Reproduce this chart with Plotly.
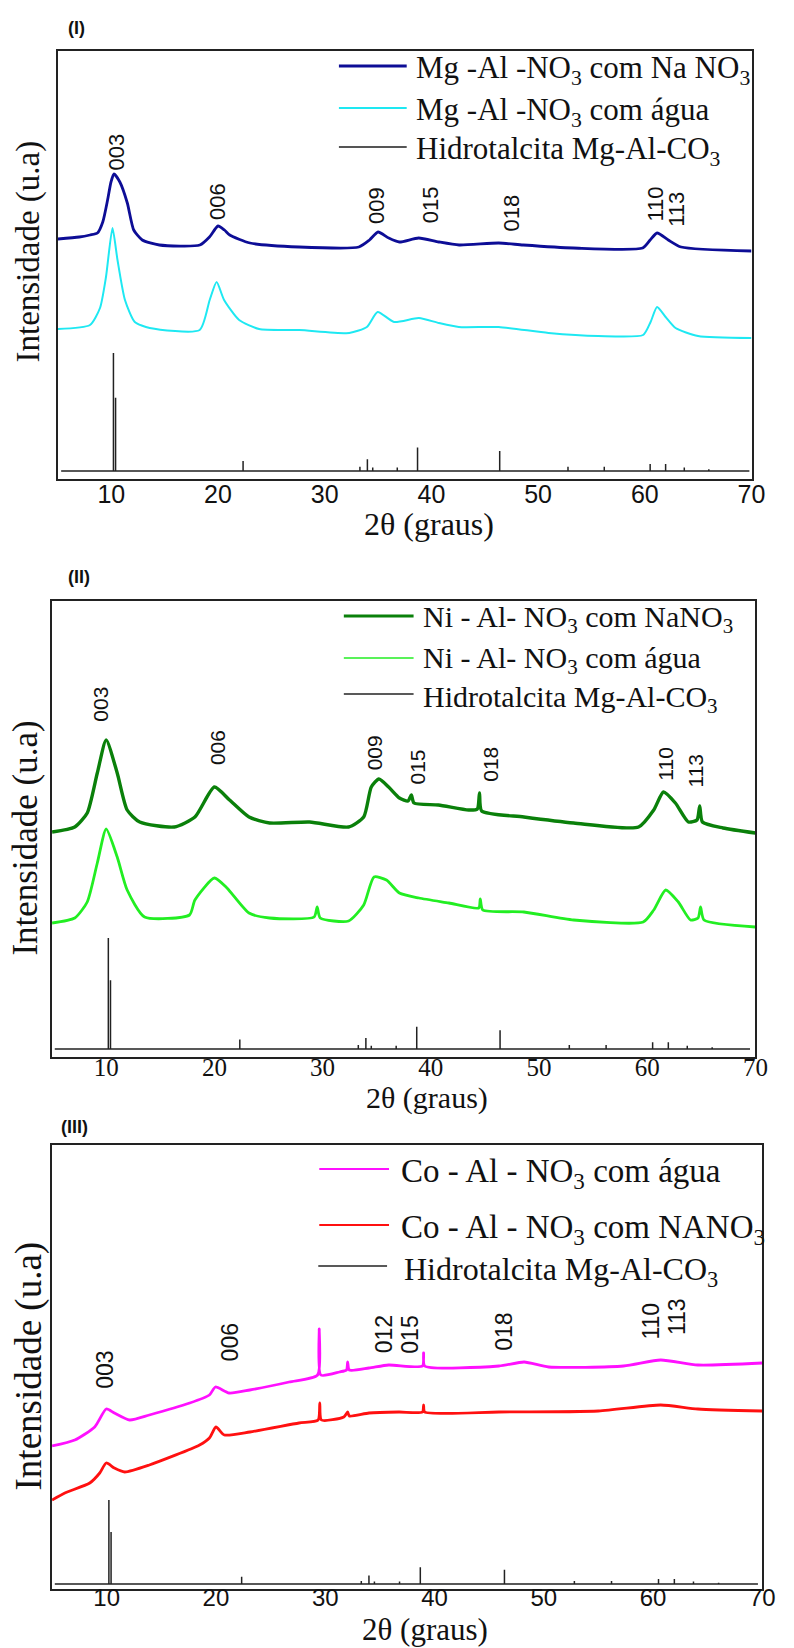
import plotly.graph_objects as go

W, H = 794, 1648

# ---------------- data ----------------
# Panel I: Mg-Al-NO3 (intensity in arbitrary units)
mg_na_x = [5.0, 7.0, 8.0, 8.7, 9.2, 9.65, 9.97, 10.25, 10.8, 11.5, 12.1, 12.9, 14.5, 18.3, 19.2, 20.0,
           20.6, 21.1, 23.0, 27.6, 33.2, 34.2, 35.0, 36.0, 37.0, 38.8, 40.7, 42.6, 46.3, 48.6, 53.3,
           59.8, 60.5, 61.15, 62.2, 63.4, 70.0]
mg_na_y = [240, 242, 244, 246, 257, 279, 297, 305, 297, 276, 249, 239, 234, 234, 242, 253,
           249, 244, 236, 232, 232, 239, 247, 241, 237, 241, 237, 234, 236, 234, 231,
           231, 239, 246, 239, 232, 228]

mg_w_x = [5.0, 8.0, 8.94, 9.5, 10.11, 10.58, 11.28, 12.2, 13.6, 18.28, 19.22, 19.87, 20.57, 21.98,
          23.85, 27.62, 32.3, 33.95, 34.96, 36.5, 38.83, 40.7, 42.57, 46.3, 50.98, 55.64, 59.84,
          60.54, 61.15, 61.95, 62.88, 64.99, 70.0]
mg_w_y = [150, 154, 171, 202, 251, 219, 179, 157, 151, 149, 179, 197, 179, 159,
          150, 149, 146, 152, 167, 157, 161, 156, 152, 152, 146, 143, 144,
          157, 172, 162, 151, 143, 141]

# Panel II: Ni-Al-NO3
ni_na_x = [5.0, 7.1, 8.25, 9.18, 10.0, 11.02, 11.94, 13.1, 16.3, 18.2, 20.0, 21.4, 23.2, 25.1, 28.8,
           32.4, 33.8, 34.5, 35.2, 36.1, 37.1, 37.9, 38.2, 38.45, 40.7, 43.5, 44.3, 44.5, 44.7, 48.6,
           53.2, 59.2, 60.6, 61.5, 62.6, 63.8, 64.6, 64.85, 65.1, 67.0, 70.0]
ni_na_y = [225, 230, 244, 284, 317, 284, 247, 235, 230, 240, 270, 257, 240, 234, 235,
           230, 240, 270, 278, 270, 259, 256, 262, 254, 252, 247, 248, 264, 246, 240,
           234, 230, 247, 265, 254, 235, 237, 251, 235, 229, 224]

ni_w_x = [5.0, 7.1, 8.25, 9.18, 10.0, 11.02, 11.94, 13.55, 17.7, 18.2, 20.0, 21.16, 23.2, 25.1,
          29.22, 29.5, 29.78, 32.4, 33.8, 34.75, 35.9, 37.1, 38.9, 41.67, 44.43, 44.57, 44.8,
          48.6, 53.2, 59.63, 60.6, 61.71, 62.87, 64.0, 64.7, 64.93, 65.25, 70.0]
ni_w_y = [134, 139, 155, 194, 228, 200, 167, 140, 142, 157, 179, 169, 144, 139,
          140, 150, 139, 136, 152, 180, 177, 164, 159, 154, 149, 158, 147,
          145, 137, 135, 147, 167, 155, 137, 139, 150, 137, 130]

# Panel III: Co-Al-NO3
co_w_x = [5.0, 7.08, 8.9, 9.96, 10.7, 12.1, 13.9, 17.6, 19.4, 19.95, 21.2, 23.1, 26.7, 29.3, 29.45,
          29.6, 31.3, 31.95, 32.05, 32.2, 34.0, 35.8, 38.9, 39.0, 39.1, 45.9, 48.2, 50.45, 57.3,
          60.7, 64.1, 70.0]
co_w_y = [143, 149, 162, 180, 176, 169, 174, 186, 194, 202, 196, 199, 207, 214, 260,
          214, 217, 219, 227, 219, 221, 224, 223, 236, 223, 223, 227, 222, 223,
          229, 224, 226]

co_na_x = [5.0, 6.17, 8.45, 9.36, 9.96, 10.7, 11.65, 13.9, 18.5, 19.4, 20.0, 20.77, 23.1, 27.6,
           29.35, 29.5, 29.65, 31.7, 32.05, 32.2, 34.0, 36.75, 38.9, 39.0, 39.1, 45.9, 55.0, 60.7,
           64.1, 70.0]
co_na_y = [89, 96, 106, 116, 126, 121, 117, 124, 144, 151, 162, 154, 157, 166,
           169, 186, 169, 172, 177, 173, 176, 177, 177, 184, 177, 177, 178, 184,
           180, 178]

# Reference pattern: hydrotalcite Mg-Al-CO3 (peak position, relative height)
ref_pos = [10.2, 10.4, 22.35, 33.3, 34.0, 34.5, 36.8, 38.7, 46.4, 52.8, 56.2, 60.5, 61.95, 63.7, 66.0]
ref_rel = [1.0, 0.62, 0.085, 0.035, 0.10, 0.03, 0.03, 0.20, 0.17, 0.035, 0.035, 0.06, 0.06, 0.03, 0.015]

# Miller index labels per panel (x in degrees, y in intensity units)
hkl_1 = ["003", "006", "009", "015", "018", "110", "113"]
hkl_1_x = [10.4, 19.9, 34.8, 39.9, 47.5, 61.0, 62.9]
hkl_1_y = [327, 278, 274, 274, 266, 275, 270]

hkl_2 = ["003", "006", "009", "015", "018", "110", "113"]
hkl_2_x = [9.4, 20.25, 34.78, 38.77, 45.45, 61.61, 64.46]
hkl_2_y = [353, 309, 304, 290, 293, 293, 286]

hkl_3 = ["003", "006", "012", "015", "018", "110", "113"]
hkl_3_x = [9.82, 21.32, 35.4, 37.73, 46.34, 59.77, 62.2]
hkl_3_y = [219, 247, 255, 254, 257, 268, 272]

x_ticks = [10, 20, 30, 40, 50, 60, 70]

SERIF = "Liberation Serif"
SANS = "Liberation Sans"
INK = "#222222"


def px_x(p):
    return p / W


def px_y(p):
    return 1 - p / H


def ref_pattern(base, scale, start, end):
    xs, ys = [start], [base]
    for p, r in zip(ref_pos, ref_rel):
        xs += [p, p, p]
        ys += [base, base + r * scale, base]
    xs.append(end)
    ys.append(base)
    return xs, ys


# panel geometry in pixels: left, right, top, bottom
panels = [
    dict(l=59, r=765, t=51, b=479),
    dict(l=53, r=769, t=601, b=1057),
    dict(l=53, r=776, t=1145, b=1589),
]

fig = go.Figure()

series = [
    # (panel index, x, y, colour, width)
    (0, mg_w_x, mg_w_y, "#1ee8f2", 2.0),
    (0, mg_na_x, mg_na_y, "#0d0d96", 2.8),
    (1, ni_w_x, ni_w_y, "#22ee22", 2.8),
    (1, ni_na_x, ni_na_y, "#0a800a", 3.4),
    (2, co_w_x, co_w_y, "#ff10ff", 2.8),
    (2, co_na_x, co_na_y, "#ff1010", 2.8),
]
for i, xs, ys, col, wd in series:
    sfx = "" if i == 0 else str(i + 1)
    fig.add_trace(go.Scatter(x=xs, y=ys, mode="lines",
                             line=dict(color=col, width=wd, shape="spline", smoothing=0.6),
                             xaxis="x" + sfx, yaxis="y" + sfx, showlegend=False))

ref_params = [(8, 118, 5.3, 69.8), (8, 111, 5.25, 69.5), (5, 84, 5.25, 69.6)]
for i, (b, s, st, en) in enumerate(ref_params):
    sfx = "" if i == 0 else str(i + 1)
    rx, ry = ref_pattern(b, s, st, en)
    fig.add_trace(go.Scatter(x=rx, y=ry, mode="lines", line=dict(color=INK, width=1.5),
                             xaxis="x" + sfx, yaxis="y" + sfx, showlegend=False))

layout = dict(width=W, height=H, margin=dict(l=0, r=0, t=0, b=0),
              paper_bgcolor="white", plot_bgcolor="white", showlegend=False)

tick_fonts = [dict(family=SANS, size=25, color="#111"),
              dict(family=SERIF, size=25, color="#111"),
              dict(family=SANS, size=24, color="#111")]
tick_standoff = [-8, -13, -14]

for i, pnl in enumerate(panels):
    sfx = "" if i == 0 else str(i + 1)
    layout["xaxis" + sfx] = dict(
        domain=[px_x(pnl["l"]), px_x(pnl["r"])], range=[5, 70], anchor="y" + sfx,
        tickvals=x_ticks, ticks="", ticklabelstandoff=tick_standoff[i], showgrid=False,
        zeroline=False, showline=True, mirror=True, linecolor=INK, linewidth=1.6,
        tickfont=tick_fonts[i])
    layout["yaxis" + sfx] = dict(
        domain=[px_y(pnl["b"]), px_y(pnl["t"])], range=[0, pnl["b"] - pnl["t"]],
        anchor="x" + sfx, showticklabels=False, ticks="", showgrid=False, zeroline=False,
        showline=True, mirror=True, linecolor=INK, linewidth=1.6)

fig.update_layout(**layout)

annotations = []
shapes = []


def paper_text(text, cx, cy, font, angle=0, xanchor="center"):
    return dict(text=text, x=px_x(cx), y=px_y(cy), xref="paper", yref="paper",
                xanchor=xanchor, yanchor="middle", textangle=angle, showarrow=False, font=font)


# panel tags
for txt, cx, cy in [("(I)", 78, 28), ("(II)", 80, 577), ("(III)", 76, 1127)]:
    annotations.append(paper_text("<b>%s</b>" % txt, cx, cy, dict(family=SANS, size=18, color="#111")))

# axis titles
for cx, cy, sz in [(437, 524, 32), (435, 1098, 30), (433, 1629, 31)]:
    annotations.append(paper_text("2θ (graus)", cx, cy, dict(family=SERIF, size=sz, color="#111")))
for cx, cy, sz in [(28, 252, 33), (25, 838, 35), (30, 1366, 37)]:
    annotations.append(paper_text("Intensidade (u.a)", cx, cy, dict(family=SERIF, size=sz, color="#111"),
                                  angle=-90))

# Miller index labels
for i, (labs, lx, ly, fs) in enumerate([(hkl_1, hkl_1_x, hkl_1_y, 22),
                                        (hkl_2, hkl_2_x, hkl_2_y, 21),
                                        (hkl_3, hkl_3_x, hkl_3_y, 23)]):
    sfx = "" if i == 0 else str(i + 1)
    for t, x, y in zip(labs, lx, ly):
        annotations.append(dict(text=t, x=x, y=y, xref="x" + sfx, yref="y" + sfx, textangle=-90,
                                xanchor="center", yanchor="middle",
                                showarrow=False, font=dict(family=SANS, size=fs, color="#111")))

# legends: (line x0, line x1, text x, row y, text y, colour, width, label, font size)
legend_rows = [
    (345, 414, 421, 66, 70, "#0d0d96", 3.0, "Mg -Al -NO<sub>3</sub> com Na NO<sub>3</sub>", 31),
    (345, 414, 421, 108, 112, "#1ee8f2", 2.0, "Mg -Al -NO<sub>3</sub> com água", 31),
    (345, 414, 421, 147, 151, "#555555", 2.0, "Hidrotalcita Mg-Al-CO<sub>3</sub>", 31),
    (350, 421, 429, 616, 619, "#0a800a", 3.0, "Ni - Al- NO<sub>3</sub> com NaNO<sub>3</sub>", 30),
    (350, 421, 429, 658, 660, "#22ee22", 1.5, "Ni - Al- NO<sub>3</sub> com água", 30),
    (350, 421, 429, 694, 699, INK, 1.5, "Hidrotalcita Mg-Al-CO<sub>3</sub>", 30),
    (325, 396, 406, 1169, 1173, "#ff10ff", 2.0, "Co - Al - NO<sub>3</sub> com água", 33),
    (325, 396, 406, 1225, 1229, "#ff1010", 2.0, "Co - Al - NO<sub>3</sub> com NANO<sub>3</sub>", 33),
    (324, 394, 409, 1266, 1271, INK, 1.5, "Hidrotalcita Mg-Al-CO<sub>3</sub>", 32),
]
for x0, x1, tx, ry, ty, col, wd, lab, fs in legend_rows:
    shapes.append(dict(type="line", xref="paper", yref="paper", x0=px_x(x0), x1=px_x(x1),
                       y0=px_y(ry), y1=px_y(ry), line=dict(color=col, width=wd)))
    annotations.append(paper_text(lab, tx, ty, dict(family=SERIF, size=fs, color="#111"),
                                  xanchor="left"))

fig.update_layout(annotations=annotations, shapes=shapes)
fig.write_html("out.html")
